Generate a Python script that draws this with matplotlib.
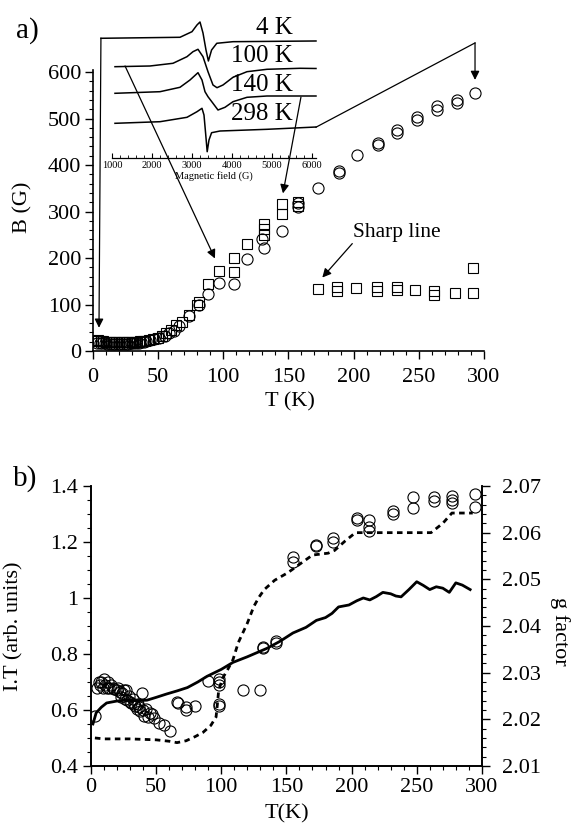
import matplotlib
matplotlib.use("Agg")
import matplotlib.pyplot as plt
from matplotlib.ticker import MultipleLocator, FixedLocator

plt.rcParams["font.family"] = ["Liberation Serif", "DejaVu Serif"]
plt.rcParams["mathtext.fontset"] = "stix"

# ── panel a: linewidth B(T) ──
sq_T = [2, 4, 6, 8, 10, 12, 14, 16, 18, 20, 22, 24, 26, 28, 30, 32, 34, 36, 38, 40,
        43, 46, 50, 53, 56, 60, 64, 68, 74, 80, 81, 88, 97, 108, 108, 118,
        131, 131, 131, 145, 145, 157, 157,
        173, 187, 187, 202, 218, 218, 233, 233, 247, 262, 262, 278, 292, 292]
sq_B = [22, 24, 22, 21, 20, 20, 19, 19, 19, 19, 19, 19, 19, 19, 19, 20, 20, 21, 21, 22,
        24, 26, 29, 33, 38, 46, 55, 62, 78, 100, 106, 145, 172, 201, 170, 230,
        274, 262, 250, 317, 295, 320, 312,
        134, 138, 130, 136, 137, 130, 138, 132, 131, 128, 120, 124, 124, 178]

ci_T = [3, 5, 7, 9, 11, 13, 15, 17, 19, 21, 23, 25, 27, 29, 31, 33, 35, 37, 39, 41,
        44, 47, 51, 55, 58, 62, 66, 74, 81, 88, 97, 108, 118, 131, 130, 145, 157, 157,
        173, 189, 189, 203, 219, 219, 233, 233, 249, 249, 264, 264, 279, 279, 293]
ci_B = [18, 18, 17, 17, 16, 16, 16, 16, 16, 16, 16, 16, 16, 17, 17, 17, 18, 19, 20, 21,
        23, 25, 28, 33, 38, 44, 54, 75, 100, 123, 147, 145, 198, 222, 240, 259, 310, 318,
        350, 388, 382, 421, 447, 443, 468, 475, 503, 497, 518, 526, 539, 534, 555]

# ── inset: EPR spectra (field in G, signal in arb. units relative to baseline) ──
spec_labels = ["4 K", "100 K", "140 K", "298 K"]
spec_field = [
    [725, 2700, 3000, 3125, 3200, 3275, 3350, 3410, 3490, 3620, 4025, 6100],
    [1075, 1950, 2525, 2875, 3025, 3150, 3275, 3400, 3525, 3625, 3775, 4025, 4375, 4875, 5700, 6100],
    [1075, 2200, 2700, 2950, 3150, 3250, 3325, 3400, 3525, 3650, 3825, 4025, 4375, 4875, 6100],
    [1075, 2200, 2875, 3125, 3250, 3300, 3340, 3380, 3425, 3490, 3700, 4875, 6100],
]
spec_signal = [
    [1.7, 2.7, 8.3, 15, 18, 7, -10, -21, -10, -3.3, -1.7, -1],
    [1.3, 2, 4.7, 11.3, 16.3, 18.7, 11.3, -3.7, -17, -19.7, -17, -9.3, -3.7, -1.3, -0.3, -0.5],
    [1.7, 3.3, 7.7, 15, 22.3, 15, 3.3, -1.7, -8.3, -15, -12.3, -6.7, -2.3, -1, -1],
    [1.7, 3.3, 7.7, 13.3, 16.7, 10, -8, -26.7, -15, -7.7, -6, -4.3, -2],
]
spec_offset = [118, 90, 63, 33]

# ── panel b ──
solid_T = [1.5, 4, 8, 12, 20, 27, 35, 43, 50, 58, 66, 74, 82, 89, 100, 109, 120, 135, 145,
           155, 165, 173, 180, 185, 190, 198, 204, 209, 214, 219, 224, 230, 234, 238, 244,
           250, 255, 260, 265, 270, 275, 280, 285, 291]
solid_IT = [0.55, 0.59, 0.61, 0.625, 0.632, 0.635, 0.633, 0.635, 0.645, 0.657, 0.668, 0.68,
            0.70, 0.72, 0.745, 0.77, 0.79, 0.82, 0.845, 0.875, 0.895, 0.92, 0.93, 0.945,
            0.968, 0.975, 0.99, 1.0, 0.993, 1.005, 1.02, 1.015, 1.007, 1.004, 1.03, 1.058,
            1.045, 1.03, 1.04, 1.035, 1.02, 1.054, 1.046, 1.03]

dash_T = [3, 10, 30, 50, 60, 66, 73, 80, 86, 92, 96, 97, 98, 101, 105, 109, 113, 120, 125,
          129, 133, 141, 151, 156, 163, 170, 182, 187, 195, 203, 261, 270, 277, 293]
dash_g = [2.0160, 2.0158, 2.0158, 2.0156, 2.0153, 2.0150, 2.0154, 2.0163, 2.0172, 2.0187,
          2.0205, 2.0232, 2.0262, 2.0288, 2.0307, 2.0328, 2.0364, 2.0406, 2.0442, 2.0462,
          2.0478, 2.0498, 2.0514, 2.0524, 2.0538, 2.0552, 2.0556, 2.0562, 2.0582, 2.0600,
          2.0600, 2.0620, 2.0642, 2.0642]

cb_T = [3, 5, 6, 7, 8, 9, 10, 11, 12, 13, 14, 15, 17, 18, 20, 21, 22, 23, 24, 25, 26, 27,
        28, 29, 30, 31, 32, 33, 34, 35, 36, 37, 38, 39, 40, 41, 42, 44, 45, 47, 48, 52, 56,
        61, 66, 67, 73, 73, 80, 90, 98, 98, 98, 98, 98, 117, 130, 132, 132, 142, 142,
        155, 155, 173, 173, 186, 186, 204, 204, 213, 213, 213, 232, 232, 247, 247,
        263, 263, 277, 277, 277, 295, 295]
cb_IT = [0.58, 0.68, 0.70, 0.69, 0.70, 0.68, 0.71, 0.69, 0.68, 0.70, 0.68, 0.69, 0.68, 0.675,
         0.67, 0.68, 0.665, 0.645, 0.66, 0.67, 0.64, 0.67, 0.635, 0.65, 0.63, 0.625, 0.64,
         0.62, 0.615, 0.605, 0.62, 0.61, 0.595, 0.66, 0.60, 0.58, 0.605, 0.575, 0.59, 0.585,
         0.57, 0.555, 0.545, 0.525, 0.63, 0.625, 0.61, 0.60, 0.615, 0.705, 0.71, 0.70, 0.69,
         0.62, 0.615, 0.67, 0.67, 0.82, 0.825, 0.84, 0.845, 1.13, 1.145, 1.185, 1.19, 1.20,
         1.215, 1.28, 1.285, 1.28, 1.255, 1.24, 1.30, 1.31, 1.36, 1.32, 1.36, 1.345, 1.365,
         1.35, 1.34, 1.37, 1.325]

fig = plt.figure(figsize=(5.74, 8.23), dpi=100)
fig.patch.set_facecolor("white")

def style_ticks(ax, xpad=3, ypad=3):
    ax.tick_params(which="major", direction="out", length=5.5, width=1.0,
                   labelsize=16, colors="k")
    ax.tick_params(which="minor", direction="out", length=3, width=0.8)
    ax.tick_params(axis="x", which="major", pad=xpad)
    ax.tick_params(axis="y", which="major", pad=ypad)
    for s in ax.spines.values():
        s.set_linewidth(1.2)

# ══ panel a ══
ax_a = fig.add_axes([0.162, 0.5735, 0.681, 0.3418])
ax_a.set_xlim(0, 300)
ax_a.set_ylim(0, 605)
ax_a.spines["top"].set_visible(False)
ax_a.spines["right"].set_visible(False)
ax_a.xaxis.set_major_locator(MultipleLocator(50))
ax_a.xaxis.set_minor_locator(MultipleLocator(10))
ax_a.yaxis.set_major_locator(FixedLocator([0, 100, 200, 300, 400, 500, 600]))
ax_a.yaxis.set_minor_locator(MultipleLocator(20))
style_ticks(ax_a, xpad=7, ypad=3)

ax_a.plot(sq_T, sq_B, ls="none", marker="s", ms=7.5, mfc="none", mec="k", mew=0.8)
ax_a.plot(ci_T, ci_B, ls="none", marker="o", ms=8, mfc="none", mec="k", mew=0.8)

ax_a.set_xlabel("T (K)", fontsize=16)
ax_a.set_ylabel("B (G)", fontsize=16)
ax_a.xaxis.set_label_coords(0.504, -0.145)
ax_a.yaxis.set_label_coords(-0.155, 0.512)

ax_a.text(233, 255, "Sharp line", fontsize=15.5, ha="center", va="center")

arr = dict(arrowstyle="-|>", color="k", lw=0.9, mutation_scale=13,
           shrinkA=0, shrinkB=0)
ax_a.annotate("", xy=(176, 158), xytext=(199, 231), arrowprops=arr)
ax_a.annotate("", xy=(4.6, 50), xytext=(6.1, 673), arrowprops=arr,
              annotation_clip=False)
ax_a.annotate("", xy=(93.6, 199), xytext=(24.6, 613), arrowprops=arr,
              annotation_clip=False)
ax_a.annotate("", xy=(145.8, 339), xytext=(159.6, 546), arrowprops=arr,
              annotation_clip=False)
ax_a.plot([171.1, 293.2], [481.3, 662.6], color="k", lw=0.9, clip_on=False)
ax_a.annotate("", xy=(293.2, 583), xytext=(293.2, 662.6), arrowprops=arr,
              annotation_clip=False)

# ══ inset ══
ax_i = fig.add_axes([0.1951, 0.808, 0.3554, 0.1738])
ax_i.patch.set_visible(False)
ax_i.set_xlim(1000, 6100)
ax_i.set_ylim(0, 143)
for s in ["top", "right", "left"]:
    ax_i.spines[s].set_visible(False)
ax_i.spines["bottom"].set_linewidth(0.9)
ax_i.set_yticks([])
ax_i.xaxis.set_major_locator(FixedLocator([1000, 2000, 3000, 4000, 5000, 6000]))
ax_i.xaxis.set_minor_locator(MultipleLocator(200))
ax_i.tick_params(which="major", direction="in", length=3.5, width=0.8,
                 labelsize=7.5, pad=2)
ax_i.tick_params(which="minor", direction="in", length=2, width=0.6)
ax_i.set_xlabel("Magnetic field (G)", fontsize=7.5, labelpad=1)

label_y = [130, 102, 73, 44]
for fld, sig, off, lab, ly in zip(spec_field, spec_signal, spec_offset,
                                  spec_labels, label_y):
    ax_i.plot(fld, [v + off for v in sig], color="k", lw=1.1, clip_on=False)
    ax_i.text(5525, ly, lab, fontsize=18, ha="right", va="center")

# ══ panel b ══
ax_b = fig.add_axes([0.1585, 0.0693, 0.681, 0.3402])
ax_b.set_xlim(0, 300)
ax_b.set_ylim(0.4, 1.4)
ax_b.spines["top"].set_visible(False)
ax_b.xaxis.set_major_locator(MultipleLocator(50))
ax_b.xaxis.set_minor_locator(MultipleLocator(10))
ax_b.set_yticks([0.4, 0.6, 0.8, 1.0, 1.2, 1.4])
ax_b.set_yticklabels(["0.4", "0.6", "0.8", "1", "1.2", "1.4"])
ax_b.yaxis.set_minor_locator(MultipleLocator(0.05))
style_ticks(ax_b, xpad=3, ypad=4)

ax_b.plot(solid_T, solid_IT, color="k", lw=2.0)
ax_b.plot(cb_T, cb_IT, ls="none", marker="o", ms=8, mfc="none", mec="k", mew=0.8)

ax_g = ax_b.twinx()
ax_g.set_ylim(2.01, 2.07)
ax_g.spines["top"].set_visible(False)
ax_g.set_yticks([2.01, 2.02, 2.03, 2.04, 2.05, 2.06, 2.07])
ax_g.set_yticklabels(["2.01", "2.02", "2.03", "2.04", "2.05", "2.06", "2.07"])
ax_g.yaxis.set_minor_locator(MultipleLocator(0.002))
style_ticks(ax_g, ypad=9)
ax_g.plot(dash_T, dash_g, color="k", lw=2.0, ls=(0, (2, 1.6)))

ax_b.set_xlabel("T(K)", fontsize=16)
ax_b.set_ylabel("I.T (arb. units)", fontsize=16)
ax_g.set_ylabel("g factor", fontsize=16, rotation=270)
ax_b.xaxis.set_label_coords(0.501, -0.135)
ax_b.yaxis.set_label_coords(-0.172, 0.5)
ax_g.yaxis.set_label_coords(1.225, 0.48)

fig.text(0.047, 0.9635, "a)", fontsize=21, ha="center", va="center")
fig.text(0.0436, 0.418, "b)", fontsize=21, ha="center", va="center")

fig.savefig("out.png", dpi=100, facecolor="white")
